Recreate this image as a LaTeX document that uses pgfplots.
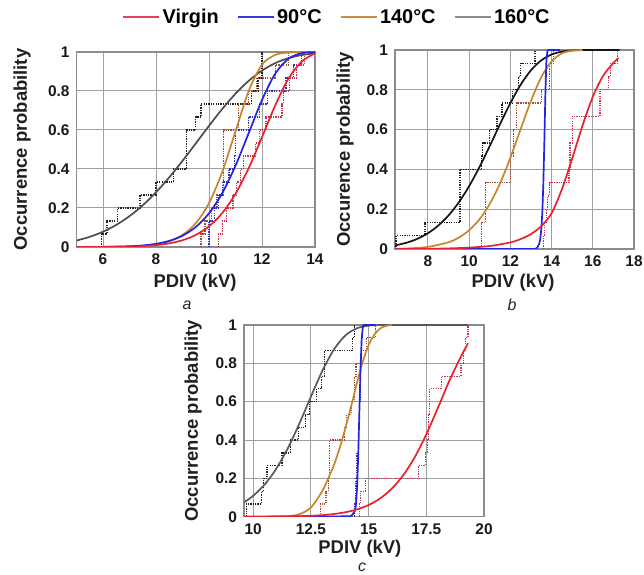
\documentclass[border=0pt]{standalone}
\usepackage{fontspec}
\setmainfont{Liberation Sans}
\usepackage{pgfplots}
\pgfplotsset{compat=1.18}

\definecolor{cvir}{HTML}{E8232F}
\definecolor{cnin}{HTML}{2323E0}
\definecolor{cfor}{HTML}{C8842C}
\definecolor{csixa}{HTML}{4D4D4D}
\definecolor{csixb}{HTML}{151515}
\definecolor{csixc}{HTML}{5A5A5A}
\definecolor{svir}{HTML}{D03050}
\definecolor{snin}{HTML}{3030C0}
\definecolor{sfor}{HTML}{A04A30}
\definecolor{ssix}{HTML}{222222}
\definecolor{cgrid}{HTML}{A0A0A0}
\definecolor{cframe}{HTML}{8C8C8C}
\definecolor{lred}{HTML}{E6405A}
\definecolor{lblue}{HTML}{3A3AD8}
\definecolor{lorange}{HTML}{C49040}
\definecolor{lgrey}{HTML}{8C8C8C}

\pgfplotsset{
  myax/.style={
    scale only axis,
    ymin=0, ymax=1, ytick={0,0.2,0.4,0.6,0.8,1},
    grid=major,
    grid style={cgrid, line width=1bp},
    axis line style={cframe, line width=1.1bp},
    major tick length=0pt,
    /pgf/number format/assume math mode=true,
    tick label style={font=\bfseries\fontsize{15.5}{17}\selectfont, text=black!90},
    xticklabel style={yshift=-3.5bp},
    yticklabel style={xshift=-3.5bp},
    label style={font=\bfseries\fontsize{18.5}{21}\selectfont, text=black!88},
  },
  cv/.style={smooth, tension=0.5, line width=1.7bp},
  cvs/.style={line width=1.7bp},
  st/.style={const plot, dash pattern=on 1.3bp off 1.1bp, line width=1.3bp},
}

\begin{document}
\begin{tikzpicture}
\path[use as bounding box] (0,0) rectangle (644bp,575bp);

%% ---------------- panel a ----------------
\begin{axis}[myax, at={(76.5bp,328bp)}, anchor=south west,
  width=238.5bp, height=195bp,
  xmin=5, xmax=14, xtick={6,8,10,12,14},
  xlabel={PDIV (kV)}, ylabel={Occurrence probability},
  xlabel style={at={(axis description cs:0.497,-0.185)}, anchor=center},
  ylabel style={at={(axis description cs:-0.2285,0.5)}, anchor=center},
  legend style={at={(1.092,1.18)}, anchor=center, draw=none, fill=none,
    legend columns=4, font=\bfseries\fontsize{20}{24}\selectfont,
    /tikz/every even column/.append style={column sep=16bp}},
  legend image code/.code={\draw[#1] (0bp,0bp) -- (36bp,0bp);},
]
\addlegendimage{color=lred, line width=2.4bp}\addlegendentry{Virgin}
\addlegendimage{color=lblue, line width=2.4bp}\addlegendentry{90°C}
\addlegendimage{color=lorange, line width=2.4bp}\addlegendentry{140°C}
\addlegendimage{color=lgrey, line width=2.4bp}\addlegendentry{160°C}

% staircases
\addplot[st, ssix, forget plot] coordinates {(5.95,0)(5.95,0.067)(6.15,0.133)(6.55,0.2)(7.4,0.267)(8.0,0.333)(8.65,0.4)(9.15,0.6)(9.5,0.667)(9.7,0.733)(11.6,0.8)(11.85,0.867)(12.0,1.0)};
\addplot[st, sfor, forget plot] coordinates {(9.7,0)(9.7,0.067)(9.85,0.133)(10.1,0.2)(10.3,0.267)(10.55,0.6)(11.1,0.733)(11.5,0.8)(11.8,0.867)(12.5,0.933)(13.0,1.0)};
\addplot[st, snin, forget plot] coordinates {(10.0,0)(10.0,0.133)(10.2,0.2)(10.35,0.267)(10.5,0.333)(10.75,0.4)(10.95,0.467)(11.0,0.6)(11.5,0.667)(11.9,0.733)(12.2,0.8)(12.9,0.867)(13.2,0.933)(13.5,1.0)};
\addplot[st, svir, forget plot] coordinates {(10.35,0)(10.35,0.067)(10.5,0.133)(10.65,0.2)(10.9,0.267)(11.05,0.333)(11.2,0.4)(11.3,0.467)(11.75,0.533)(11.9,0.6)(12.15,0.667)(12.75,0.733)(12.8,0.8)(13.05,0.867)(13.3,0.933)(13.6,1.0)};
% fitted curves
\addplot[cv, csixa, forget plot] coordinates {(5,0.0331)(5.5,0.0521)(6,0.0783)(6.5,0.1133)(7,0.1582)(7.5,0.2139)(8,0.2804)(8.5,0.3570)(9,0.4416)(9.5,0.5311)(10,0.6214)(10.5,0.7079)(11,0.7861)(11.5,0.8524)(12,0.9049)(12.5,0.9431)(13,0.9688)(13.5,0.9844)(14,0.9930)};
\addplot[cv, cfor, forget plot] coordinates {(5,0.0000)(6,0.0003)(7,0.0023)(7.5,0.0057)(8,0.0133)(8.5,0.0295)(9,0.0615)(9.5,0.1217)(10,0.225)(10.5,0.385)(11,0.593)(11.5,0.801)(12,0.935)(12.5,0.985)(13,0.997)(14,1)};
\addplot[cv, cnin, forget plot] coordinates {(5,0.0001)(6,0.0007)(7,0.0038)(7.5,0.008)(8,0.0162)(8.5,0.0313)(9,0.0579)(9.5,0.1023)(10,0.1726)(10.5,0.2765)(11,0.4168)(11.5,0.5847)(12,0.754)(12.5,0.889)(13,0.9658)(13.5,0.994)(14,0.9995)};
\addplot[cv, cvir, forget plot] coordinates {(5,0.0001)(6,0.0004)(7,0.0022)(7.5,0.0048)(8,0.0096)(8.5,0.0186)(9,0.0345)(9.5,0.0617)(10,0.1058)(10.5,0.174)(11,0.2728)(11.5,0.405)(12,0.563)(12.5,0.7264)(13,0.864)(13.5,0.951)(14,0.993)};
\end{axis}

%% ---------------- panel b ----------------
\begin{axis}[myax, at={(395bp,326bp)}, anchor=south west,
  width=239bp, height=199bp,
  xmin=6.4, xmax=18, xtick={8,10,12,14,16,18},
  xlabel={PDIV (kV)}, ylabel={Occurence probability},
  xlabel style={at={(axis description cs:0.494,-0.171)}, anchor=center},
  ylabel style={at={(axis description cs:-0.209,0.5)}, anchor=center},
]
\addplot[st, ssix] coordinates {(6.45,0)(6.45,0.067)(7.85,0.133)(9.55,0.4)(10.6,0.467)(10.65,0.533)(11.0,0.6)(11.35,0.667)(11.6,0.733)(12.1,0.8)(12.4,0.867)(12.5,0.933)(13.2,1.0)};
\addplot[st, sfor] coordinates {(10.6,0)(10.6,0.133)(10.8,0.333)(12.0,0.467)(12.15,0.6)(12.3,0.733)(13.5,0.8)(13.9,0.933)(14.1,1.0)};
\addplot[st, svir] coordinates {(13.6,0)(13.6,0.067)(13.65,0.133)(13.75,0.2)(13.8,0.267)(13.9,0.333)(14.85,0.4)(14.9,0.533)(15.0,0.667)(16.35,0.8)(16.75,0.867)(16.85,0.933)(17.2,1.0)};
\addplot[cv, csixb] coordinates {(6.4,0.0178)(7,0.0327)(7.5,0.0518)(8,0.0794)(8.5,0.1177)(9,0.1688)(9.5,0.2349)(10,0.3162)(10.5,0.4118)(11,0.5177)(11.5,0.6279)(12,0.7333)(12.5,0.8259)(13,0.8983)(13.5,0.948)(14,0.9774)(14.5,0.9919)(15,0.9977)(15.5,0.9995)(16,1)(17.3,1)};
\addplot[cv, cfor] coordinates {(6.4,0.0011)(7,0.0028)(8,0.0106)(9,0.034)(9.5,0.0577)(10,0.0944)(10.5,0.149)(11,0.2268)(11.5,0.3303)(12,0.4588)(12.5,0.6028)(13,0.7449)(13.5,0.8638)(14,0.9432)(14.5,0.9831)(15,0.9967)(15.5,1)};
\addplot[cvs, cnin] coordinates {(6.4,0)(13.2,0)(13.3,0.0066)(13.4,0.0258)(13.45,0.0504)(13.5,0.0976)(13.55,0.1837)(13.6,0.329)(13.65,0.5437)(13.7,0.7851)(13.75,0.95)(13.8,0.9972)(13.9,1)(14.4,1)};
\addplot[cv, cvir] coordinates {(6.4,0)(8,0.001)(9,0.003)(10,0.007)(11,0.015)(12,0.033)(12.5,0.05)(13,0.075)(13.5,0.115)(14,0.18)(14.5,0.3)(15,0.455)(15.5,0.62)(16,0.765)(16.5,0.87)(17,0.935)(17.25,0.96)};
\end{axis}

%% ---------------- panel c ----------------
\begin{axis}[myax, at={(244bp,58.3bp)}, anchor=south west,
  width=240bp, height=191.7bp,
  xmin=9.6, xmax=20, xtick={10,12.5,15,17.5,20},
  xlabel={PDIV (kV)}, ylabel={Occurrence probability},
  xlabel style={at={(axis description cs:0.483,-0.168)}, anchor=center},
  ylabel style={at={(axis description cs:-0.2125,0.5)}, anchor=center},
]
\addplot[st, ssix] coordinates {(9.7,0)(9.7,0.067)(10.35,0.133)(10.45,0.2)(10.6,0.267)(11.25,0.333)(11.6,0.4)(11.95,0.467)(12.25,0.533)(12.45,0.6)(12.75,0.667)(12.95,0.733)(13.1,0.867)(14.3,0.933)(14.4,1.0)};
\addplot[st, sfor] coordinates {(12.9,0)(12.9,0.067)(13.15,0.133)(13.25,0.2)(13.3,0.4)(13.95,0.467)(14.05,0.533)(14.25,0.6)(14.4,0.733)(14.45,0.8)(14.7,0.867)(14.9,0.933)(15.3,1.0)};
\addplot[st, snin] coordinates {(14.4,0)(14.4,0.067)(14.45,0.2)(14.5,0.333)(14.55,0.467)(14.6,0.6)(14.65,0.8)(14.7,0.933)(14.75,1.0)};
\addplot[st, svir] coordinates {(14.6,0)(14.6,0.067)(14.65,0.133)(14.85,0.2)(17.15,0.267)(17.45,0.333)(17.55,0.4)(17.6,0.533)(17.65,0.667)(18.15,0.733)(19.0,0.8)(19.1,0.867)(19.2,0.933)(19.3,1.0)};
\addplot[cv, csixc] coordinates {(9.6,0.0751)(10,0.1092)(10.5,0.1687)(11,0.2507)(11.5,0.3574)(12,0.4860)(12.5,0.6265)(13,0.7619)(13.5,0.8728)(14,0.9462)(14.5,0.9833)(15,0.9965)(15.5,0.9996)(16,1)(19.3,1)};
\addplot[cv, cfor] coordinates {(9.6,0)(11,0.0003)(11.5,0.0022)(12,0.013)(12.5,0.048)(13,0.135)(13.25,0.2)(13.5,0.27)(13.75,0.36)(14,0.465)(14.25,0.58)(14.5,0.7)(14.75,0.81)(15,0.895)(15.25,0.95)(15.5,0.982)(15.75,0.995)(16,1)};
\addplot[cvs, cnin] coordinates {(9.6,0)(14.2,0.002)(14.3,0.01)(14.4,0.03)(14.45,0.06)(14.5,0.15)(14.55,0.32)(14.6,0.55)(14.65,0.78)(14.7,0.93)(14.75,0.99)(14.8,1)(15.3,1)};
\addplot[cv, cvir] coordinates {(9.6,0.0001)(11,0.0008)(12,0.0027)(12.5,0.0047)(13,0.0082)(13.5,0.014)(14,0.0234)(14.5,0.0382)(15,0.061)(15.5,0.0954)(16,0.1457)(16.5,0.2162)(17,0.3106)(17.5,0.4295)(18,0.567)(18.5,0.7092)(19,0.8352)(19.31,0.905)};
\end{axis}

\node[font=\itshape\fontsize{16}{18}\selectfont, text=black!85] at (187bp,270bp) {a};
\node[font=\itshape\fontsize{16}{18}\selectfont, text=black!85] at (512bp,270bp) {b};
\node[font=\itshape\fontsize{16}{18}\selectfont, text=black!85] at (362bp,8bp) {c};
\end{tikzpicture}
\end{document}
